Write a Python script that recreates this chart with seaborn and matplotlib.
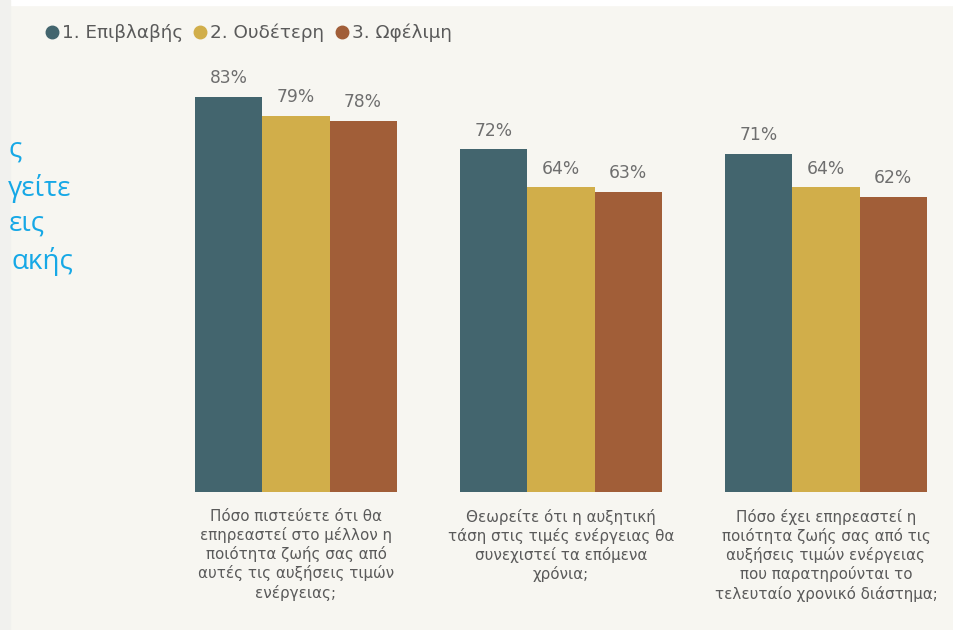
import numpy as np
import pandas as pd
import seaborn as sns
import matplotlib
matplotlib.use("Agg")
import matplotlib.pyplot as plt
from matplotlib.lines import Line2D
from matplotlib.patches import Rectangle

# data
questions = [
    "Πόσο πιστεύετε ότι θα\nεπηρεαστεί στο μέλλον η\nποιότητα ζωής σας από\nαυτές τις αυξήσεις τιμών\nενέργειας;",
    "Θεωρείτε ότι η αυξητική\nτάση στις τιμές ενέργειας θα\nσυνεχιστεί τα επόμενα\nχρόνια;",
    "Πόσο έχει επηρεαστεί η\nποιότητα ζωής σας από τις\nαυξήσεις τιμών ενέργειας\nπου παρατηρούνται το\nτελευταίο χρονικό διάστημα;",
]
groups = ["1. Επιβλαβής", "2. Ουδέτερη", "3. Ωφέλιμη"]
harmful = [83, 72, 71]
neutral = [79, 64, 64]
beneficial = [78, 63, 62]
side_text = ["ς", "γείτε", "εις", "ακής"]

colors = ["#43656E", "#D1AE4A", "#A15E38"]
bg = "#F7F6F1"

df = pd.DataFrame({
    "question": questions * 3,
    "group": [g for g in groups for _ in questions],
    "value": harmful + neutral + beneficial,
})

sns.set_style("white")
plt.rcParams["font.family"] = ["DejaVu Sans"]

fig = plt.figure(figsize=(9.54, 6.30), dpi=100, facecolor=bg)
# faint border strips of the screenshot
fig.patches.append(Rectangle((0, 0.992), 1, 0.008, transform=fig.transFigure, color="#FFFFFF", zorder=0))
fig.patches.append(Rectangle((0, 0), 0.011, 1, transform=fig.transFigure, color="#F1F1EE", zorder=0))

ax = fig.add_axes([160 / 954, (630 - 492) / 630, (954 - 160) / 954, 476 / 630])
ax.set_facecolor(bg)
sns.barplot(data=df, x="question", y="value", hue="group", palette=colors,
            width=0.76, saturation=1, linewidth=0, ax=ax, legend=False)
ax.set_ylim(0, 100)
ax.set_xlim(-0.513, 2.483)
for c in ax.containers:
    ax.bar_label(c, fmt="%d%%", padding=7, fontsize=12.3, color="#6E6E6E", fontweight="medium")

ax.set_xlabel("")
ax.set_ylabel("")
ax.set_yticks([])
ax.tick_params(axis="x", length=0, pad=12)
for lab in ax.get_xticklabels():
    lab.set_fontsize(10.9)
    lab.set_color("#5A5A5A")
    lab.set_linespacing(1.25)
for s in ax.spines.values():
    s.set_visible(False)

handles = [Line2D([], [], marker="o", linestyle="", color=c, markersize=9) for c in colors]
fig.legend(handles, groups, loc="center left", bbox_to_anchor=(24 / 954, 1 - 33 / 630),
           ncol=3, frameon=False, fontsize=13.2, handletextpad=-0.05, columnspacing=0.35,
           handlelength=1.2, labelcolor="#5A5A5A")

# cut-off text from the slide on the left
right_edges = [22, 71, 45, 73]
ys = [150, 188, 224, 261]
for t, xr, y in zip(side_text, right_edges, ys):
    fig.text(xr / 954, 1 - y / 630, t, ha="right", va="center", fontsize=20,
             color="#16A8E6", family=["Open Sans", "DejaVu Sans"])

fig.savefig("out.png", dpi=100, facecolor=bg)
